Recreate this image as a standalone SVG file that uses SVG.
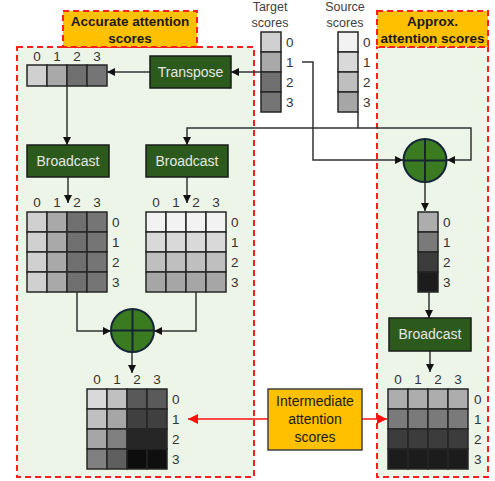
<svg xmlns="http://www.w3.org/2000/svg" width="495" height="481" viewBox="0 0 495 481">
<style>
text{font-family:"Liberation Sans",Arial,sans-serif;fill:#333;}
.dig{font-size:13.5px;}
.lbl{font-size:12.5px;fill:#404040;}
.panel{fill:#EDF5E9;stroke:#FF1E1E;stroke-width:2;stroke-dasharray:6,4;}
.title{fill:#FFC000;stroke:#FF1E1E;stroke-width:2;stroke-dasharray:6,4;}
.ttl{font-size:13.5px;font-weight:bold;fill:#1a1a1a;}
.op{fill:#2C5A1C;stroke:#1a1a1a;stroke-width:1.5;}
.opt{font-size:14px;fill:#E6E6E6;}
.cell{stroke:#262626;stroke-width:1.5;}
.circ{fill:#3A7B22;stroke:#142536;stroke-width:2;}
.cross{stroke:#142536;stroke-width:2;}
.con{fill:none;stroke:#333;stroke-width:1.5;}
.red{fill:none;stroke:#FF1010;stroke-width:1.5;}
.imt{font-size:14px;fill:#1a1a1a;}
</style>
<defs>
<marker id="ah" markerUnits="userSpaceOnUse" markerWidth="9" markerHeight="9" refX="8" refY="4" orient="auto"><path d="M0,0 L8,4 L0,8 z" fill="#111"/></marker>
<marker id="rah" markerUnits="userSpaceOnUse" markerWidth="11" markerHeight="11" refX="10" refY="5" orient="auto"><path d="M0,0 L10,5 L0,10 z" fill="#FF1010"/></marker>
</defs>

<g id="panel-accurate">
<rect class="panel" x="17" y="47" width="237" height="430"/>
<rect class="title" x="63" y="11" width="134" height="36"/>
<text class="ttl" x="130" y="26" text-anchor="middle">Accurate attention</text>
<text class="ttl" x="130" y="43" text-anchor="middle">scores</text>
</g>
<g id="panel-approx">
<rect class="panel" x="377" y="47" width="111" height="430"/>
<rect class="title" x="377" y="11" width="111" height="36"/>
<text class="ttl" x="432.5" y="26" text-anchor="middle">Approx.</text>
<text class="ttl" x="432.5" y="43" text-anchor="middle" textLength="104" lengthAdjust="spacingAndGlyphs">attention scores</text>
</g>

<g id="connectors">
<path class="con" d="M261,72 H231" marker-end="url(#ah)"/>
<path class="con" d="M150,72 H107" marker-end="url(#ah)"/>
<path class="con" d="M67,86 V145" marker-end="url(#ah)"/>
<path class="con" d="M68,177 V203" marker-end="url(#ah)"/>
<path class="con" d="M358,112 V128 H187 V145" marker-end="url(#ah)"/>
<path class="con" d="M358,128 H471 V160 H447" marker-end="url(#ah)"/>
<path class="con" d="M302,62 H313 V160 H403" marker-end="url(#ah)"/>
<path class="con" d="M187,177 V203" marker-end="url(#ah)"/>
<path class="con" d="M425,182 V211" marker-end="url(#ah)"/>
<path class="con" d="M429,292 V318" marker-end="url(#ah)"/>
<path class="con" d="M430,351 V372" marker-end="url(#ah)"/>
<path class="con" d="M77,292 V331 H111" marker-end="url(#ah)"/>
<path class="con" d="M196,292 V331 H154" marker-end="url(#ah)"/>
<path class="con" d="M132,352 V373" marker-end="url(#ah)"/>
<path class="red" d="M268,419 H188" marker-end="url(#rah)"/>
<path class="red" d="M362,419 H387" marker-end="url(#rah)"/>
</g>

<g id="target-scores">
<text class="lbl" x="270" y="11" text-anchor="middle">Target</text>
<text class="lbl" x="270" y="27" text-anchor="middle">scores</text>
<rect class="cell" x="261" y="32" width="20" height="20" fill="#D0D0D0"/>
<rect class="cell" x="261" y="52" width="20" height="20" fill="#A9A9A9"/>
<rect class="cell" x="261" y="72" width="20" height="20" fill="#707070"/>
<rect class="cell" x="261" y="92" width="20" height="20" fill="#757575"/>
<text class="dig" x="286" y="47">0</text>
<text class="dig" x="286" y="67">1</text>
<text class="dig" x="286" y="87">2</text>
<text class="dig" x="286" y="107">3</text>
</g>

<g id="source-scores">
<text class="lbl" x="345" y="11" text-anchor="middle">Source</text>
<text class="lbl" x="345" y="27" text-anchor="middle">scores</text>
<rect class="cell" x="338" y="32" width="20" height="20" fill="#F2F2F2"/>
<rect class="cell" x="338" y="52" width="20" height="20" fill="#D9D9D9"/>
<rect class="cell" x="338" y="72" width="20" height="20" fill="#BFBFBF"/>
<rect class="cell" x="338" y="92" width="20" height="20" fill="#A6A6A6"/>
<text class="dig" x="363" y="47">0</text>
<text class="dig" x="363" y="67">1</text>
<text class="dig" x="363" y="87">2</text>
<text class="dig" x="363" y="107">3</text>
</g>

<g id="transpose">
<rect class="op" x="150" y="56" width="81" height="32"/>
<text class="opt" x="190.5" y="77" text-anchor="middle">Transpose</text>
</g>

<g id="transposed-vector">
<text class="dig" x="37" y="61" text-anchor="middle">0</text>
<text class="dig" x="57" y="61" text-anchor="middle">1</text>
<text class="dig" x="77" y="61" text-anchor="middle">2</text>
<text class="dig" x="97" y="61" text-anchor="middle">3</text>
<rect class="cell" x="27" y="65" width="20" height="21" fill="#D0D0D0"/>
<rect class="cell" x="47" y="65" width="20" height="21" fill="#A9A9A9"/>
<rect class="cell" x="67" y="65" width="20" height="21" fill="#707070"/>
<rect class="cell" x="87" y="65" width="20" height="21" fill="#757575"/>
</g>

<g id="broadcast-1">
<rect class="op" x="27" y="145" width="82" height="32"/>
<text class="opt" x="68" y="166" text-anchor="middle">Broadcast</text>
</g>
<g id="broadcast-2">
<rect class="op" x="146" y="145" width="82" height="32"/>
<text class="opt" x="187" y="166" text-anchor="middle">Broadcast</text>
</g>

<g id="matrix-a">
<text class="dig" x="37" y="207" text-anchor="middle">0</text>
<text class="dig" x="57" y="207" text-anchor="middle">1</text>
<text class="dig" x="77" y="207" text-anchor="middle">2</text>
<text class="dig" x="97" y="207" text-anchor="middle">3</text>
<g class="cell">
<rect x="27" y="212" width="20" height="20" fill="#D0D0D0"/><rect x="47" y="212" width="20" height="20" fill="#A9A9A9"/><rect x="67" y="212" width="20" height="20" fill="#707070"/><rect x="87" y="212" width="20" height="20" fill="#757575"/>
<rect x="27" y="232" width="20" height="20" fill="#D0D0D0"/><rect x="47" y="232" width="20" height="20" fill="#A9A9A9"/><rect x="67" y="232" width="20" height="20" fill="#707070"/><rect x="87" y="232" width="20" height="20" fill="#757575"/>
<rect x="27" y="252" width="20" height="20" fill="#D0D0D0"/><rect x="47" y="252" width="20" height="20" fill="#A9A9A9"/><rect x="67" y="252" width="20" height="20" fill="#707070"/><rect x="87" y="252" width="20" height="20" fill="#757575"/>
<rect x="27" y="272" width="20" height="20" fill="#D0D0D0"/><rect x="47" y="272" width="20" height="20" fill="#A9A9A9"/><rect x="67" y="272" width="20" height="20" fill="#707070"/><rect x="87" y="272" width="20" height="20" fill="#757575"/>
</g>
<text class="dig" x="112" y="227">0</text>
<text class="dig" x="112" y="247">1</text>
<text class="dig" x="112" y="267">2</text>
<text class="dig" x="112" y="287">3</text>
</g>

<g id="matrix-b">
<text class="dig" x="156" y="207" text-anchor="middle">0</text>
<text class="dig" x="176" y="207" text-anchor="middle">1</text>
<text class="dig" x="196" y="207" text-anchor="middle">2</text>
<text class="dig" x="216" y="207" text-anchor="middle">3</text>
<g class="cell">
<rect x="146" y="212" width="20" height="20" fill="#F2F2F2"/><rect x="166" y="212" width="20" height="20" fill="#F2F2F2"/><rect x="186" y="212" width="20" height="20" fill="#F2F2F2"/><rect x="206" y="212" width="20" height="20" fill="#F2F2F2"/>
<rect x="146" y="232" width="20" height="20" fill="#D9D9D9"/><rect x="166" y="232" width="20" height="20" fill="#D9D9D9"/><rect x="186" y="232" width="20" height="20" fill="#D9D9D9"/><rect x="206" y="232" width="20" height="20" fill="#D9D9D9"/>
<rect x="146" y="252" width="20" height="20" fill="#BFBFBF"/><rect x="166" y="252" width="20" height="20" fill="#BFBFBF"/><rect x="186" y="252" width="20" height="20" fill="#BFBFBF"/><rect x="206" y="252" width="20" height="20" fill="#BFBFBF"/>
<rect x="146" y="272" width="20" height="20" fill="#A6A6A6"/><rect x="166" y="272" width="20" height="20" fill="#A6A6A6"/><rect x="186" y="272" width="20" height="20" fill="#A6A6A6"/><rect x="206" y="272" width="20" height="20" fill="#A6A6A6"/>
</g>
<text class="dig" x="231" y="227">0</text>
<text class="dig" x="231" y="247">1</text>
<text class="dig" x="231" y="267">2</text>
<text class="dig" x="231" y="287">3</text>
</g>

<g id="add-left">
<circle class="circ" cx="132.5" cy="330.5" r="21.5"/>
<path class="cross" d="M132.5,309 V352 M111,330.5 H154"/>
</g>

<g id="matrix-c">
<text class="dig" x="97" y="384" text-anchor="middle">0</text>
<text class="dig" x="117" y="384" text-anchor="middle">1</text>
<text class="dig" x="137" y="384" text-anchor="middle">2</text>
<text class="dig" x="157" y="384" text-anchor="middle">3</text>
<g class="cell">
<rect x="87" y="389" width="20" height="20" fill="#D9D9D9"/><rect x="107" y="389" width="20" height="20" fill="#C0C0C0"/><rect x="127" y="389" width="20" height="20" fill="#595959"/><rect x="147" y="389" width="20" height="20" fill="#5A5A5A"/>
<rect x="87" y="409" width="20" height="20" fill="#C0C0C0"/><rect x="107" y="409" width="20" height="20" fill="#A6A6A6"/><rect x="127" y="409" width="20" height="20" fill="#404040"/><rect x="147" y="409" width="20" height="20" fill="#404040"/>
<rect x="87" y="429" width="20" height="20" fill="#A6A6A6"/><rect x="107" y="429" width="20" height="20" fill="#808080"/><rect x="127" y="429" width="20" height="20" fill="#262626"/><rect x="147" y="429" width="20" height="20" fill="#262626"/>
<rect x="87" y="449" width="20" height="20" fill="#808080"/><rect x="107" y="449" width="20" height="20" fill="#5F5F5F"/><rect x="127" y="449" width="20" height="20" fill="#0D0D0D"/><rect x="147" y="449" width="20" height="20" fill="#0F0F0F"/>
</g>
<text class="dig" x="172" y="404">0</text>
<text class="dig" x="172" y="424">1</text>
<text class="dig" x="172" y="444">2</text>
<text class="dig" x="172" y="464">3</text>
</g>

<g id="add-right">
<circle class="circ" cx="425" cy="160.5" r="21.5"/>
<path class="cross" d="M425,139 V182 M403.5,160.5 H446.5"/>
</g>

<g id="approx-vector">
<rect class="cell" x="418" y="212" width="20" height="20" fill="#ADADAD"/>
<rect class="cell" x="418" y="232" width="20" height="20" fill="#7A7A7A"/>
<rect class="cell" x="418" y="252" width="20" height="20" fill="#3C3C3C"/>
<rect class="cell" x="418" y="272" width="20" height="20" fill="#1C1C1C"/>
<text class="dig" x="443" y="227">0</text>
<text class="dig" x="443" y="247">1</text>
<text class="dig" x="443" y="267">2</text>
<text class="dig" x="443" y="287">3</text>
</g>

<g id="broadcast-3">
<rect class="op" x="389" y="318" width="82" height="33"/>
<text class="opt" x="430" y="339" text-anchor="middle">Broadcast</text>
</g>

<g id="matrix-d">
<text class="dig" x="398" y="384" text-anchor="middle">0</text>
<text class="dig" x="418" y="384" text-anchor="middle">1</text>
<text class="dig" x="438" y="384" text-anchor="middle">2</text>
<text class="dig" x="458" y="384" text-anchor="middle">3</text>
<g class="cell">
<rect x="388" y="389" width="20" height="20" fill="#ADADAD"/><rect x="408" y="389" width="20" height="20" fill="#ADADAD"/><rect x="428" y="389" width="20" height="20" fill="#ADADAD"/><rect x="448" y="389" width="20" height="20" fill="#ADADAD"/>
<rect x="388" y="409" width="20" height="20" fill="#7A7A7A"/><rect x="408" y="409" width="20" height="20" fill="#7A7A7A"/><rect x="428" y="409" width="20" height="20" fill="#7A7A7A"/><rect x="448" y="409" width="20" height="20" fill="#7A7A7A"/>
<rect x="388" y="429" width="20" height="20" fill="#3C3C3C"/><rect x="408" y="429" width="20" height="20" fill="#3C3C3C"/><rect x="428" y="429" width="20" height="20" fill="#3C3C3C"/><rect x="448" y="429" width="20" height="20" fill="#3C3C3C"/>
<rect x="388" y="449" width="20" height="20" fill="#1C1C1C"/><rect x="408" y="449" width="20" height="20" fill="#1C1C1C"/><rect x="428" y="449" width="20" height="20" fill="#1C1C1C"/><rect x="448" y="449" width="20" height="20" fill="#1C1C1C"/>
</g>
<text class="dig" x="474" y="404">0</text>
<text class="dig" x="474" y="424">1</text>
<text class="dig" x="474" y="444">2</text>
<text class="dig" x="474" y="464">3</text>
</g>

<g id="intermediate-label">
<rect x="268" y="389" width="94" height="61" fill="#FFC000" stroke="#404040" stroke-width="1.5"/>
<text class="imt" x="315" y="406" text-anchor="middle">Intermediate</text>
<text class="imt" x="315" y="424" text-anchor="middle">attention</text>
<text class="imt" x="315" y="442" text-anchor="middle">scores</text>
</g>
</svg>
